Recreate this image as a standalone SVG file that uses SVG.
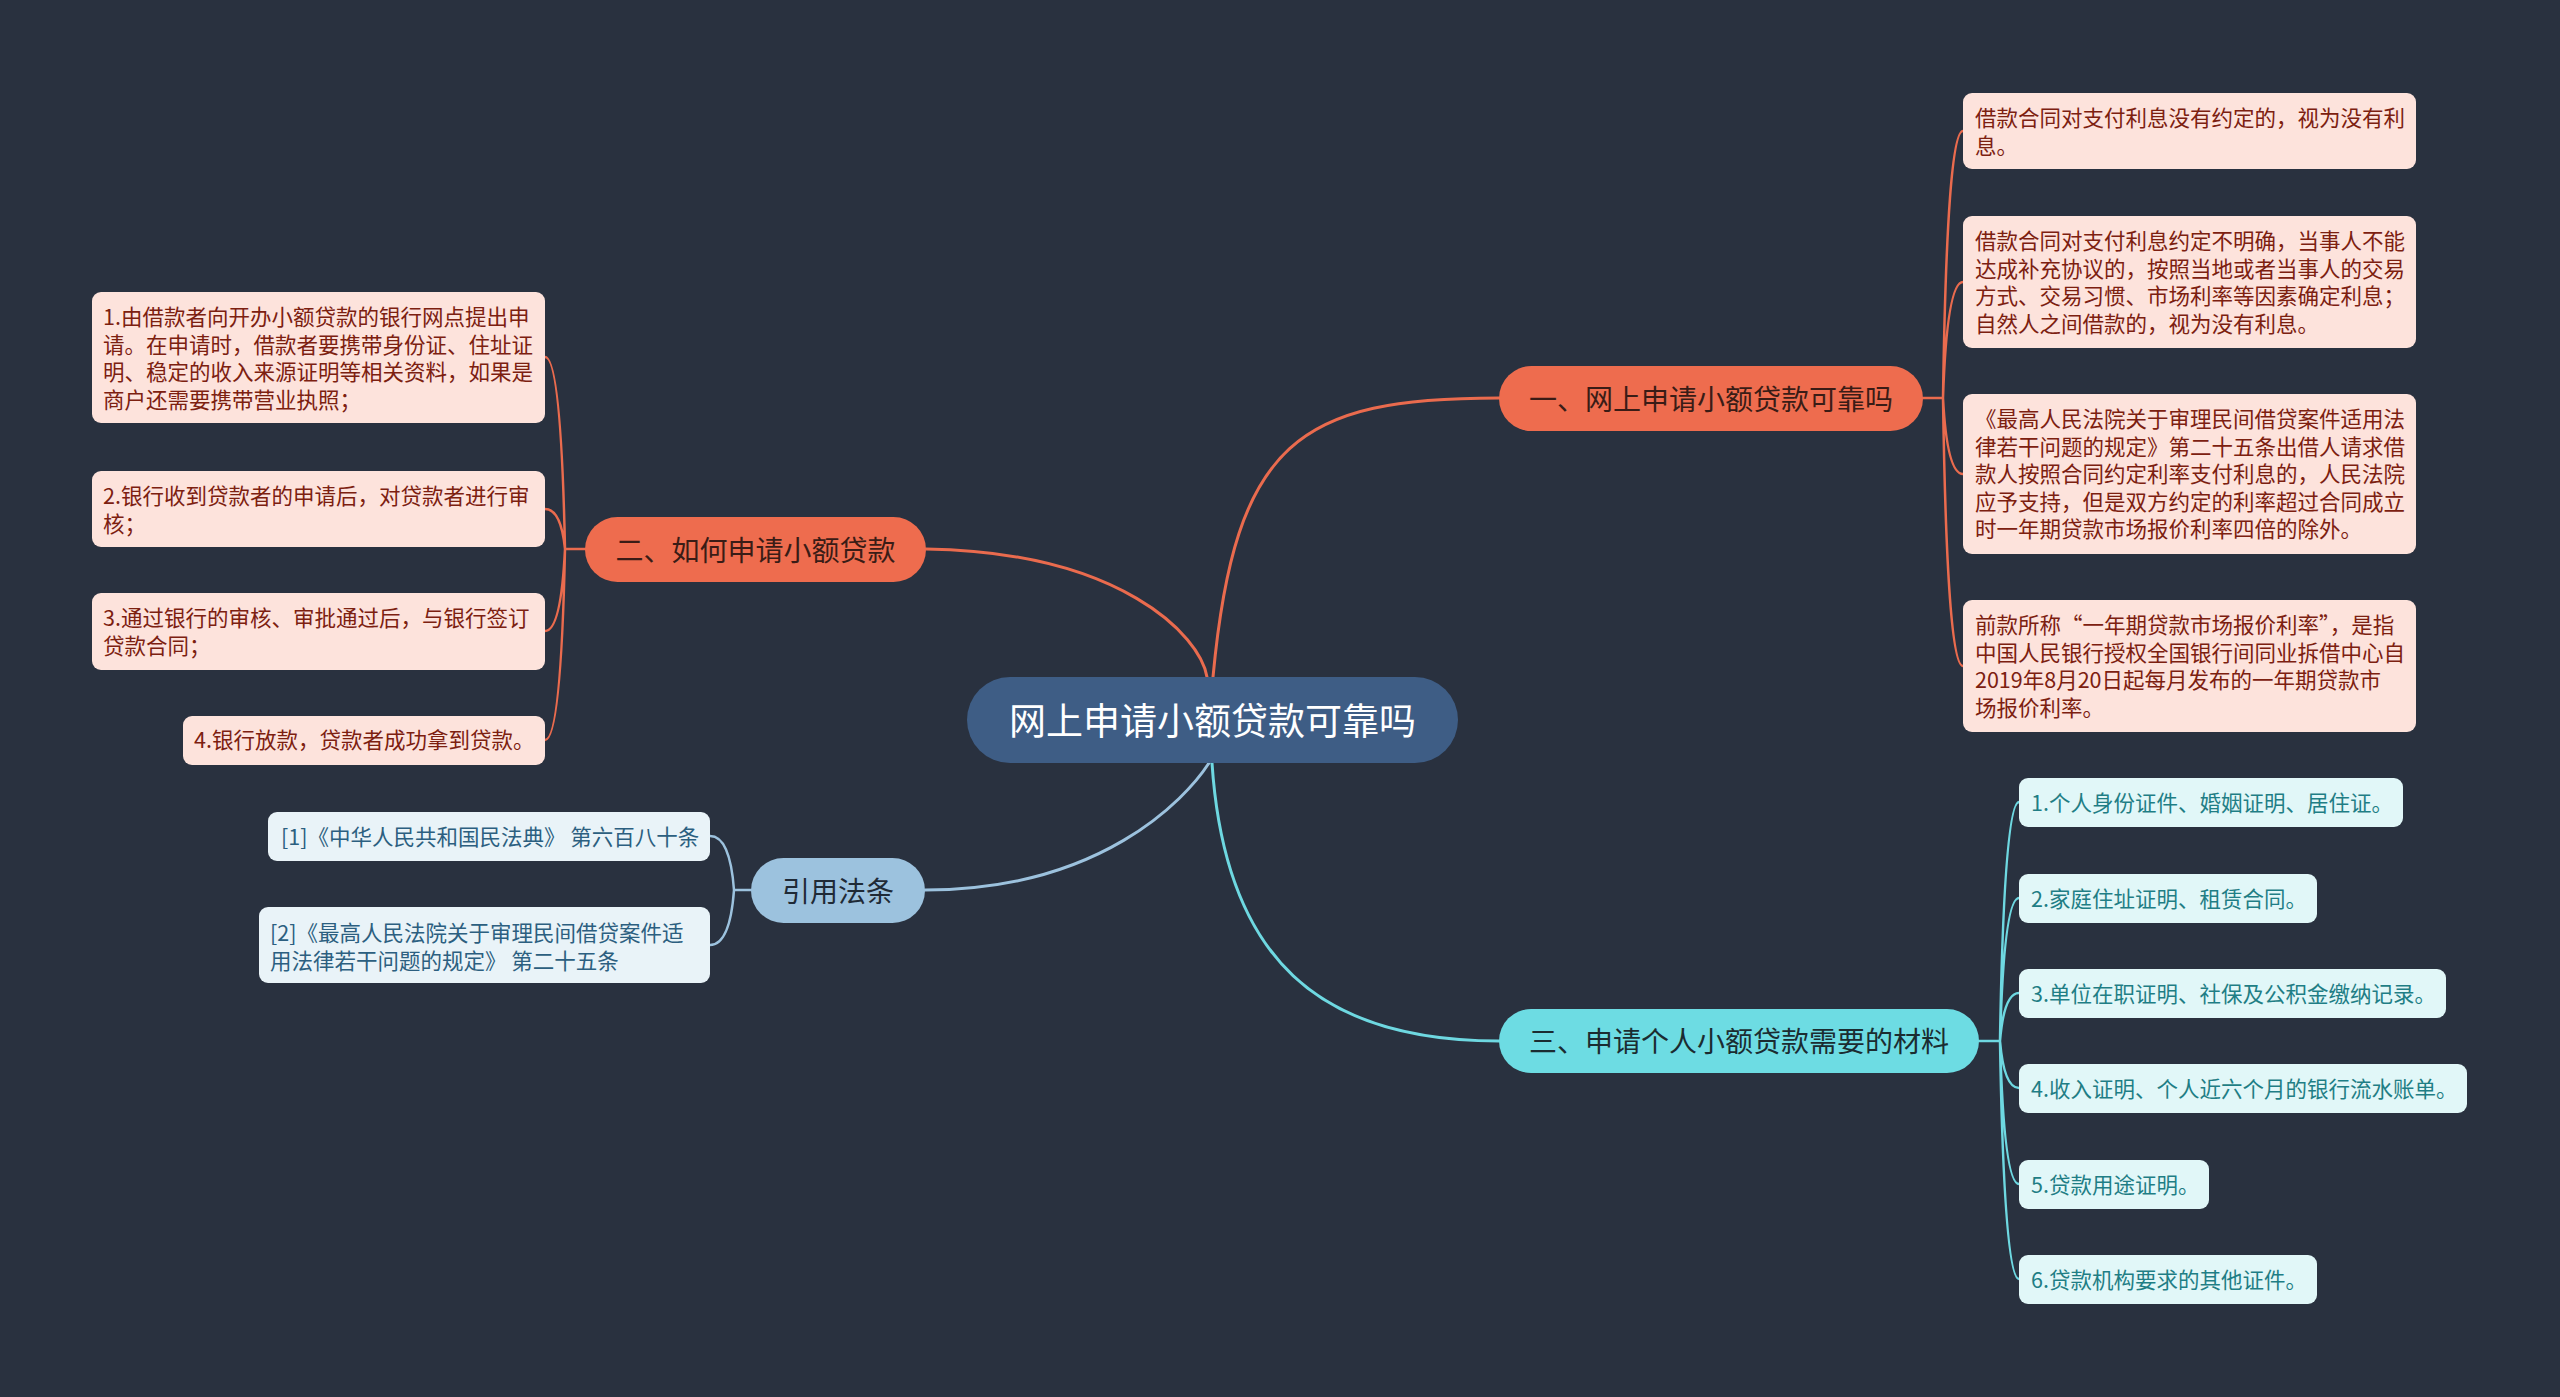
<svg xmlns="http://www.w3.org/2000/svg" width="2560" height="1397" viewBox="0 0 2560 1397">
<style>
text{font-family:"Noto Sans CJK SC","Noto Sans",sans-serif;dominant-baseline:central}
.ln{fill:none;stroke-width:3;stroke-linecap:round}
.sub{fill:none;stroke-width:2.5;stroke-linecap:round}
.coral{stroke:#ea6b4e}
.cyan{stroke:#6ed8e1}
.blue{stroke:#9cc2de}
.rb{fill:#fde3dc}
.rt{fill:#7c2010;font-size:21.5px;transform:translateY(-2px)}
.mb{fill:#e1f7f8}
.mt{fill:#1f7e85;font-size:21.5px;transform:translateY(-1px)}
.cb{fill:#e9f3f8}
.ct{fill:#2c5f80;font-size:21.5px;transform:translateY(-1px)}
.bt{font-size:28px;text-anchor:middle}
</style>
<rect width="2560" height="1397" fill="#29313f"/>
<g id="connectors">
<path class="ln coral" d="M1213,677 C1235,440 1300,398 1499,398"/>
<path class="ln coral" d="M1207,677 C1200,635 1120,552 926,549"/>
<path class="ln blue" d="M1209,763 C1185,800 1100,890 925,890"/>
<path class="ln cyan" d="M1212,763 C1225,960 1320,1041 1499,1041"/>
<path class="sub coral" d="M1923,398 H1943 M1943,398 Q1947,131 1963,131 M1943,398 Q1947,282 1963,282 M1943,398 Q1947,474 1963,474 M1943,398 Q1947,666 1963,666"/>
<path class="sub coral" d="M585,549 H565 M565,549 Q561,357 545,357 M565,549 Q561,509 545,509 M565,549 Q561,631 545,631 M565,549 Q561,740 545,740"/>
<path class="sub blue" d="M751,890 H734 M734,890 Q730,836 710,836 M734,890 Q730,945 710,945"/>
<path class="sub cyan" d="M1979,1041 H2000 M2000,1041 Q2004,802 2019,802 M2000,1041 Q2004,898 2019,898 M2000,1041 Q2004,993 2019,993 M2000,1041 Q2004,1088 2019,1088 M2000,1041 Q2004,1184 2019,1184 M2000,1041 Q2004,1279 2019,1279"/>
</g>
<g id="center">
<rect x="967" y="677" width="491" height="86" rx="43" fill="#3e5d85"/>
<text x="1212.5" y="719" font-size="37" fill="#ffffff" text-anchor="middle">网上申请小额贷款可靠吗</text>
</g>
<g id="b1">
<rect x="1499" y="366" width="424" height="65" rx="32.5" fill="#ee6c4e"/>
<text class="bt" x="1711" y="397.5" fill="#3a1c16">一、网上申请小额贷款可靠吗</text>
</g>
<g id="b2">
<rect x="585" y="517" width="341" height="65" rx="32.5" fill="#ee6c4e"/>
<text class="bt" x="755.5" y="548.5" fill="#3a1c16">二、如何申请小额贷款</text>
</g>
<g id="b3">
<rect x="751" y="858" width="174" height="65" rx="32.5" fill="#9cc2de"/>
<text class="bt" x="838" y="889.5" fill="#1f2a36">引用法条</text>
</g>
<g id="b4">
<rect x="1499" y="1009" width="480" height="64" rx="32" fill="#6ddce3"/>
<text class="bt" x="1739" y="1040" fill="#1b2c31">三、申请个人小额贷款需要的材料</text>
</g>
<g id="r1">
<rect class="rb" x="1963" y="93" width="453" height="76" rx="9"/>
<text class="rt" x="1975"><tspan x="1975" y="118">借款合同对支付利息没有约定的，视为没有利</tspan><tspan x="1975" y="145.5">息。</tspan></text>
</g>
<g id="r2">
<rect class="rb" x="1963" y="216" width="453" height="132" rx="9"/>
<text class="rt"><tspan x="1975" y="241">借款合同对支付利息约定不明确，当事人不能</tspan><tspan x="1975" y="268.5">达成补充协议的，按照当地或者当事人的交易</tspan><tspan x="1975" y="296">方式、交易习惯、市场利率等因素确定利息；</tspan><tspan x="1975" y="323.5">自然人之间借款的，视为没有利息。</tspan></text>
</g>
<g id="r3">
<rect class="rb" x="1963" y="394" width="453" height="160" rx="9"/>
<text class="rt"><tspan x="1975" y="419">《最高人民法院关于审理民间借贷案件适用法</tspan><tspan x="1975" y="446.5">律若干问题的规定》第二十五条出借人请求借</tspan><tspan x="1975" y="474">款人按照合同约定利率支付利息的，人民法院</tspan><tspan x="1975" y="501.5">应予支持，但是双方约定的利率超过合同成立</tspan><tspan x="1975" y="529">时一年期贷款市场报价利率四倍的除外。</tspan></text>
</g>
<g id="r4">
<rect class="rb" x="1963" y="600" width="453" height="132" rx="9"/>
<text class="rt"><tspan x="1975" y="625">前款所称“一年期贷款市场报价利率”，是指</tspan><tspan x="1975" y="652.5">中国人民银行授权全国银行间同业拆借中心自</tspan><tspan x="1975" y="680">2019年8月20日起每月发布的一年期贷款市</tspan><tspan x="1975" y="707.5">场报价利率。</tspan></text>
</g>
<g id="l1">
<rect class="rb" x="92" y="292" width="453" height="131" rx="9"/>
<text class="rt"><tspan x="103" y="317">1.由借款者向开办小额贷款的银行网点提出申</tspan><tspan x="103" y="344.5">请。在申请时，借款者要携带身份证、住址证</tspan><tspan x="103" y="372">明、稳定的收入来源证明等相关资料，如果是</tspan><tspan x="103" y="399.5">商户还需要携带营业执照；</tspan></text>
</g>
<g id="l2">
<rect class="rb" x="92" y="471" width="453" height="76" rx="9"/>
<text class="rt"><tspan x="103" y="496">2.银行收到贷款者的申请后，对贷款者进行审</tspan><tspan x="103" y="523.5">核；</tspan></text>
</g>
<g id="l3">
<rect class="rb" x="92" y="593" width="453" height="77" rx="9"/>
<text class="rt"><tspan x="103" y="618">3.通过银行的审核、审批通过后，与银行签订</tspan><tspan x="103" y="645.5">贷款合同；</tspan></text>
</g>
<g id="l4">
<rect class="rb" x="183" y="716" width="362" height="49" rx="9"/>
<text class="rt" x="194" y="740.5">4.银行放款，贷款者成功拿到贷款。</text>
</g>
<g id="c1">
<rect class="cb" x="268" y="812" width="442" height="49" rx="9"/>
<text class="ct" x="281" y="836.5">[1]《中华人民共和国民法典》 第六百八十条</text>
</g>
<g id="c2">
<rect class="cb" x="259" y="907" width="451" height="76" rx="9"/>
<text class="ct"><tspan x="270" y="932">[2]《最高人民法院关于审理民间借贷案件适</tspan><tspan x="270" y="959.5">用法律若干问题的规定》 第二十五条</tspan></text>
</g>
<g id="m1">
<rect class="mb" x="2019" y="778" width="384" height="49" rx="9"/>
<text class="mt" x="2031" y="802.5">1.个人身份证件、婚姻证明、居住证。</text>
</g>
<g id="m2">
<rect class="mb" x="2019" y="874" width="298" height="49" rx="9"/>
<text class="mt" x="2031" y="898.5">2.家庭住址证明、租赁合同。</text>
</g>
<g id="m3">
<rect class="mb" x="2019" y="969" width="427" height="49" rx="9"/>
<text class="mt" x="2031" y="993.5">3.单位在职证明、社保及公积金缴纳记录。</text>
</g>
<g id="m4">
<rect class="mb" x="2019" y="1064" width="448" height="49" rx="9"/>
<text class="mt" x="2031" y="1088.5">4.收入证明、个人近六个月的银行流水账单。</text>
</g>
<g id="m5">
<rect class="mb" x="2019" y="1160" width="190" height="49" rx="9"/>
<text class="mt" x="2031" y="1184.5">5.贷款用途证明。</text>
</g>
<g id="m6">
<rect class="mb" x="2019" y="1255" width="298" height="49" rx="9"/>
<text class="mt" x="2031" y="1279.5">6.贷款机构要求的其他证件。</text>
</g>
</svg>
